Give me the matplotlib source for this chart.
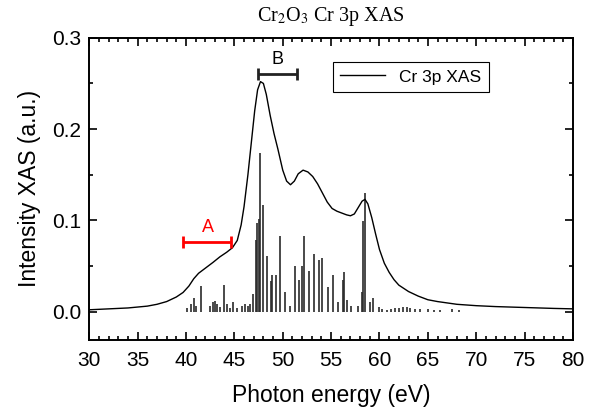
import matplotlib
matplotlib.use('Agg')
import matplotlib.pyplot as plt
from matplotlib.ticker import MultipleLocator

plt.rcParams['font.family'] = ['Liberation Sans', 'DejaVu Sans']
plt.rcParams['mathtext.fontset'] = 'stix'

# XAS curve
energy = [30, 32, 34, 36, 37, 38, 39, 39.7, 40.3, 40.8, 41.3, 41.8, 42.3, 42.8,
          43.5, 44.2, 44.8, 45.3, 45.7, 46.0, 46.4, 46.8, 47.1, 47.4, 47.7, 48.0,
          48.3, 48.7, 49.1, 49.5, 50.0, 50.4, 50.8, 51.2, 51.6, 52.1, 52.6, 53.1,
          53.6, 54.1, 54.6, 55.1, 55.6, 56.1, 56.6, 57.0, 57.4, 57.8, 58.2, 58.5,
          58.8, 59.2, 59.6, 60.0, 60.5, 61.0, 61.5, 62.0, 63.0, 64.0, 65.0, 66.0,
          68.0, 70.0, 72.0, 75.0, 78.0, 80.0]
intensity = [0.002, 0.003, 0.004, 0.006, 0.008, 0.011, 0.016, 0.021, 0.028, 0.036,
             0.042, 0.046, 0.050, 0.054, 0.060, 0.065, 0.070, 0.078, 0.095, 0.115,
             0.150, 0.190, 0.220, 0.243, 0.252, 0.250, 0.238, 0.215, 0.195, 0.178,
             0.155, 0.143, 0.139, 0.143, 0.151, 0.155, 0.153, 0.148, 0.140, 0.130,
             0.120, 0.113, 0.110, 0.108, 0.106, 0.105, 0.107, 0.114, 0.121, 0.123,
             0.118, 0.103, 0.085, 0.068, 0.053, 0.043, 0.035, 0.029, 0.022, 0.017,
             0.013, 0.011, 0.008, 0.0065, 0.0055, 0.0045, 0.0035, 0.003]

# multiplet lines (sticks)
stick_e = [40.1, 40.5, 40.8, 41.0, 41.6, 42.5, 42.8, 43.0, 43.2, 43.5, 43.95, 44.2,
           44.5, 44.9, 45.3, 45.8, 46.1, 46.4, 46.6, 46.9, 47.2, 47.3, 47.5, 47.67,
           47.94, 48.4, 48.8, 48.9, 49.35, 49.7, 50.25, 50.8, 51.3, 51.7, 52.0,
           52.15, 52.7, 53.2, 53.7, 54.1, 54.65, 55.2, 55.75, 56.2, 56.3, 56.6,
           57.1, 57.8, 58.2, 58.3, 58.55, 59.0, 59.3, 60.0, 60.3, 60.8, 61.2, 61.6,
           62.0, 62.4, 62.8, 63.2, 63.7, 64.2, 65.0, 65.6, 66.3, 67.5, 68.2]
stick_i = [0.004, 0.008, 0.015, 0.006, 0.028, 0.006, 0.010, 0.012, 0.008, 0.005,
           0.029, 0.008, 0.004, 0.010, 0.004, 0.006, 0.008, 0.006, 0.008, 0.019,
           0.079, 0.097, 0.102, 0.174, 0.117, 0.061, 0.033, 0.040, 0.040, 0.083,
           0.021, 0.006, 0.050, 0.035, 0.050, 0.083, 0.044, 0.063, 0.056, 0.059,
           0.027, 0.040, 0.010, 0.035, 0.043, 0.013, 0.006, 0.006, 0.022, 0.099,
           0.130, 0.011, 0.015, 0.005, 0.003, 0.002, 0.003, 0.004, 0.004, 0.005,
           0.005, 0.004, 0.003, 0.003, 0.003, 0.002, 0.002, 0.003, 0.002]

fig = plt.figure(figsize=(5.95, 4.11), dpi=100)
ax = fig.add_axes([0.150, 0.173, 0.813, 0.735])

ax.vlines(stick_e, 0, stick_i, color='#2a2a2a', linewidth=1.2)
ax.plot(energy, intensity, color='black', linewidth=1.0, label='Cr 3p XAS')

# region markers
ax.errorbar([42.2], [0.076], xerr=[[2.5], [2.5]], color='red', capsize=4,
            elinewidth=2, capthick=2)
ax.text(42.3, 0.083, 'A', color='red', ha='center', va='bottom', fontsize=13)
ax.errorbar([49.45], [0.260], xerr=[[2.05], [2.05]], color='#222222', capsize=4,
            elinewidth=2, capthick=2)
ax.text(49.45, 0.267, 'B', color='black', ha='center', va='bottom', fontsize=13)

ax.set_xlim(30, 80)
ax.set_ylim(-0.031, 0.3)
ax.xaxis.set_major_locator(MultipleLocator(5))
ax.xaxis.set_minor_locator(MultipleLocator(1))
ax.yaxis.set_major_locator(MultipleLocator(0.1))
ax.yaxis.set_minor_locator(MultipleLocator(0.05))
ax.tick_params(which='both', direction='in', top=True, right=True, labelsize=15,
               width=1.2)
ax.tick_params(which='major', length=6)
ax.tick_params(axis='x', which='major', pad=8)
ax.tick_params(axis='y', which='major', pad=6)
ax.tick_params(which='minor', length=3)
for s in ax.spines.values():
    s.set_linewidth(1.4)

ax.set_xlabel('Photon energy (eV)', fontsize=16.5, labelpad=10)
ax.set_ylabel('Intensity XAS (a.u.)', fontsize=16.5, labelpad=8)
ax.set_title(r'Cr$_2$O$_3$ Cr 3p XAS', family='Liberation Serif', fontsize=14.5, pad=12)

leg = ax.legend(loc='upper right', bbox_to_anchor=(0.845, 0.95), fontsize=12.5,
                fancybox=False, edgecolor='black', framealpha=1,
                handlelength=2.6, borderpad=0.45)
leg.get_frame().set_linewidth(0.8)

fig.savefig('out.png', dpi=100)
